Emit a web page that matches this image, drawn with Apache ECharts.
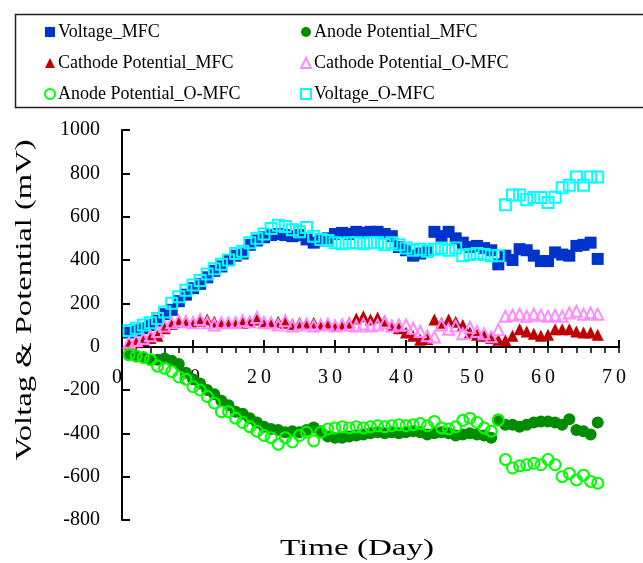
<!DOCTYPE html>
<html>
<head>
<meta charset="utf-8">
<script src="https://cdn.jsdelivr.net/npm/echarts@6/dist/echarts.min.js"></script>
<style>
    html, body { margin: 0; padding: 0; background: #fff; }
    #chart { width: 643px; height: 563px; }
</style>
</head>
<body>
<div id="chart"></div>
<script type="text/javascript">
    // 时间 (天)
    var days = [1, 2, 3, 4, 5, 6, 7, 8, 9, 10, 11, 12, 13, 14, 15, 16, 17, 18, 19, 20,
        21, 22, 23, 24, 25, 26, 27, 28, 29, 30, 31, 32, 33, 34, 35, 36, 37, 38, 39, 40,
        41, 42, 43, 44, 45, 46, 47, 48, 49, 50, 51, 52, 53, 54, 55, 56, 57, 58, 59, 60,
        61, 62, 63, 64, 65, 66, 67];

    var voltageMFC = [65, 75, 85, 100, 120, 150, 170, 210, 240, 270, 290, 320, 350, 370, 400, 420, 430, 470, 490, 505,
        515, 520, 515, 510, 515, 495, 480, 490, 500, 520, 525, 520, 530, 525, 530, 530, 520, 510, 460, 445,
        420, 430, 440, 530, 510, 530, 500, 480, 460, 465, 455, 445, 380, 420, 400, 450, 445, 420, 395, 395,
        435, 425, 420, 465, 470, 480, 405];
    var anodeMFC = [-40, -45, -50, -60, -60, -55, -65, -80, -120, -150, -170, -200, -220, -250, -270, -300, -310, -330, -350, -370,
        -380, -385, -395, -390, -395, -385, -373, -390, -415, -420, -420, -415, -410, -405, -400, -395, -400, -395, -400, -395,
        -390, -395, -405, -400, -395, -400, -410, -405, -400, -405, -410, -420, -336, -360, -360, -370, -360, -350, -345, -345,
        -350, -360, -335, -385, -390, -405, -350];
    var cathodeMFC = [15, 20, 30, 40, 50, 85, 105, 115, 120, 115, 120, 125, 115, 110, 110, 115, 110, 115, 125, 115,
        110, 115, 110, 105, 110, 105, 110, 100, 105, 100, 105, 110, 130, 140, 125, 135, 120, 100, 85, 65,
        50, 32, 35, 125, 110, 125, 115, 100, 65, 55, 50, 40, 32, 30, 50, 80, 70, 60, 50, 55,
        80, 80, 80, 70, 65, 65, 55];
    var cathodeOMFC = [20, 28, 38, 50, 70, 95, 110, 120, 115, 110, 125, 110, 100, 110, 110, 110, 120, 115, 135, 110,
        110, 100, 120, 95, 100, 105, 95, 100, 105, 95, 100, 100, 95, 105, 95, 100, 110, 95, 100, 100,
        85, 70, 50, 45, 100, 80, 95, 60, 90, 70, 60, 46, 78, 140, 145, 150, 140, 150, 145, 140,
        145, 140, 155, 163, 150, 155, 150];
    var anodeOMFC = [-37, -43, -50, -60, -90, -100, -115, -140, -150, -185, -200, -230, -260, -300, -300, -330, -350, -370, -390, -410,
        -420, -450, -420, -440, -410, -395, -435, -395, -380, -375, -370, -375, -370, -375, -370, -365, -370, -365, -360, -365,
        -360, -355, -365, -345, -375, -380, -370, -340, -330, -350, -375, -390, -340, -521, -560, -550, -545, -538, -545, -521,
        -545, -600, -585, -615, -593, -622, -630];
    var voltageOMFC = [75, 85, 100, 110, 130, 160, 200, 230, 260, 285, 305, 335, 360, 380, 400, 430, 440, 480, 500, 520,
        545, 560, 555, 540, 530, 550, 510, 495, 490, 480, 475, 480, 480, 475, 480, 480, 470, 480, 470, 455,
        445, 450, 440, 450, 455, 445, 455, 420, 425, 430, 425, 420, 420, 655, 700, 700, 678, 688, 688, 665,
        690, 733, 745, 783, 745, 783, 783];

    var yTicks = [-800, -600, -400, -200, 0, 200, 400, 600, 800, 1000];
    var xTicks = [0, 10, 20, 30, 40, 50, 60, 70];

    var serif = '"Liberation Serif", "Times New Roman", serif';

    function pairs(vals) {
        var out = [];
        for (var i = 0; i < vals.length; i++) {
            out.push([days[i], vals[i]]);
        }
        return out;
    }

    function filled(name, symbol, color, data) {
        return {
            name: name, type: 'scatter', symbol: symbol, symbolSize: 12,
            xAxisIndex: 0, yAxisIndex: 0,
            itemStyle: { color: color, opacity: 1 },
            data: pairs(data)
        };
    }
    function hollow(name, symbol, color, data) {
        return {
            name: name, type: 'scatter', symbol: symbol, symbolSize: 11,
            xAxisIndex: 0, yAxisIndex: 0,
            itemStyle: { color: 'rgba(255,255,255,0)', borderColor: color, borderWidth: 2, opacity: 1 },
            data: pairs(data)
        };
    }

    var myChart = echarts.init(document.getElementById('chart'));

    var legendCommon = {
        orient: 'vertical',
        top: 22,
        padding: 0,
        itemGap: 11,
        itemWidth: 10,
        itemHeight: 10,
        textStyle: { fontFamily: serif, fontSize: 18, color: '#000', lineHeight: 20, padding: [0, 0, 0, -2] },
        selectedMode: false
    };

    // 第二个 grid 只用来把 x 轴画在 y=0 的位置
    var option = {
        animation: false,
        backgroundColor: '#fff',
        legend: [
            Object.assign({ left: 44, data: ['Voltage_MFC', 'Cathode Potential_MFC', 'Anode Potential_O-MFC'] }, legendCommon),
            Object.assign({ left: 300, data: ['Anode Potential_MFC', 'Cathode Potential_O-MFC', 'Voltage_O-MFC'] }, legendCommon)
        ],
        graphic: [
            {
                type: 'rect', silent: true, z: -1,
                shape: { x: 15.5, y: 14.5, width: 660, height: 93 },
                style: { fill: 'none', stroke: '#222', lineWidth: 1.5 }
            },
            {
                type: 'text', silent: true,
                x: 25, y: 300, rotation: Math.PI / 2, scaleX: 1.36,
                style: {
                    text: 'Voltag & Potential (mV)', font: '24px ' + serif, fill: '#000',
                    textAlign: 'center', textVerticalAlign: 'middle'
                }
            },
            {
                type: 'text', silent: true,
                x: 357, y: 549, scaleX: 1.38,
                style: {
                    text: 'Time (Day)', font: '24px ' + serif, fill: '#000',
                    textAlign: 'center', textVerticalAlign: 'middle'
                }
            }
        ],
        grid: [
            { left: 122, right: 24, top: 130, bottom: 43, containLabel: false },
            { left: 122, right: 24, top: 130, bottom: 216, containLabel: false }
        ],
        xAxis: [
            {
                type: 'value', gridIndex: 0, min: 0, max: 70, show: false
            },
            {
                type: 'value', gridIndex: 1, min: 0, max: 70, interval: 2, position: 'bottom',
                axisLine: { show: true, onZero: false, lineStyle: { color: '#000', width: 2 } },
                axisTick: { show: true, inside: false, length: 6, lineStyle: { color: '#000', width: 1.5 } },
                axisLabel: {
                    show: true, margin: 21, fontFamily: serif, fontSize: 20, color: '#000',
                    padding: [0, 10, 0, 0],
                    formatter: function (v) {
                        if (xTicks.indexOf(v) < 0) return '';
                        return String(v).split('').join('\u2009');
                    }
                },
                splitLine: { show: false }
            },
            {
                type: 'value', gridIndex: 1, min: 0, max: 70, interval: 10, position: 'bottom',
                axisLine: { show: false, onZero: false },
                axisTick: { show: true, inside: true, length: 7, lineStyle: { color: '#000', width: 2 } },
                axisLabel: { show: false },
                splitLine: { show: false }
            }
        ],
        yAxis: [
            {
                type: 'value', gridIndex: 0, min: -800, max: 1000, interval: 200,
                axisLine: { show: true, onZero: false, lineStyle: { color: '#000', width: 2 } },
                axisTick: { show: true, inside: true, length: 8, lineStyle: { color: '#000', width: 2 } },
                axisLabel: {
                    margin: 22, fontFamily: serif, fontSize: 20, color: '#000',
                    formatter: function (v) { return yTicks.indexOf(v) >= 0 ? String(v) : ''; }
                },
                splitLine: { show: false }
            },
            {
                type: 'value', gridIndex: 1, min: 0, max: 1, show: false
            }
        ],
        series: [
            filled('Voltage_MFC', 'rect', '#0033cc', voltageMFC),
            filled('Anode Potential_MFC', 'circle', '#008c00', anodeMFC),
            filled('Cathode Potential_MFC', 'triangle', '#c00000', cathodeMFC),
            hollow('Cathode Potential_O-MFC', 'triangle', '#ff8cff', cathodeOMFC),
            hollow('Anode Potential_O-MFC', 'circle', '#00ff00', anodeOMFC),
            hollow('Voltage_O-MFC', 'rect', '#00ffff', voltageOMFC)
        ]
    };

    myChart.setOption(option, true);
</script>
</body>
</html>
